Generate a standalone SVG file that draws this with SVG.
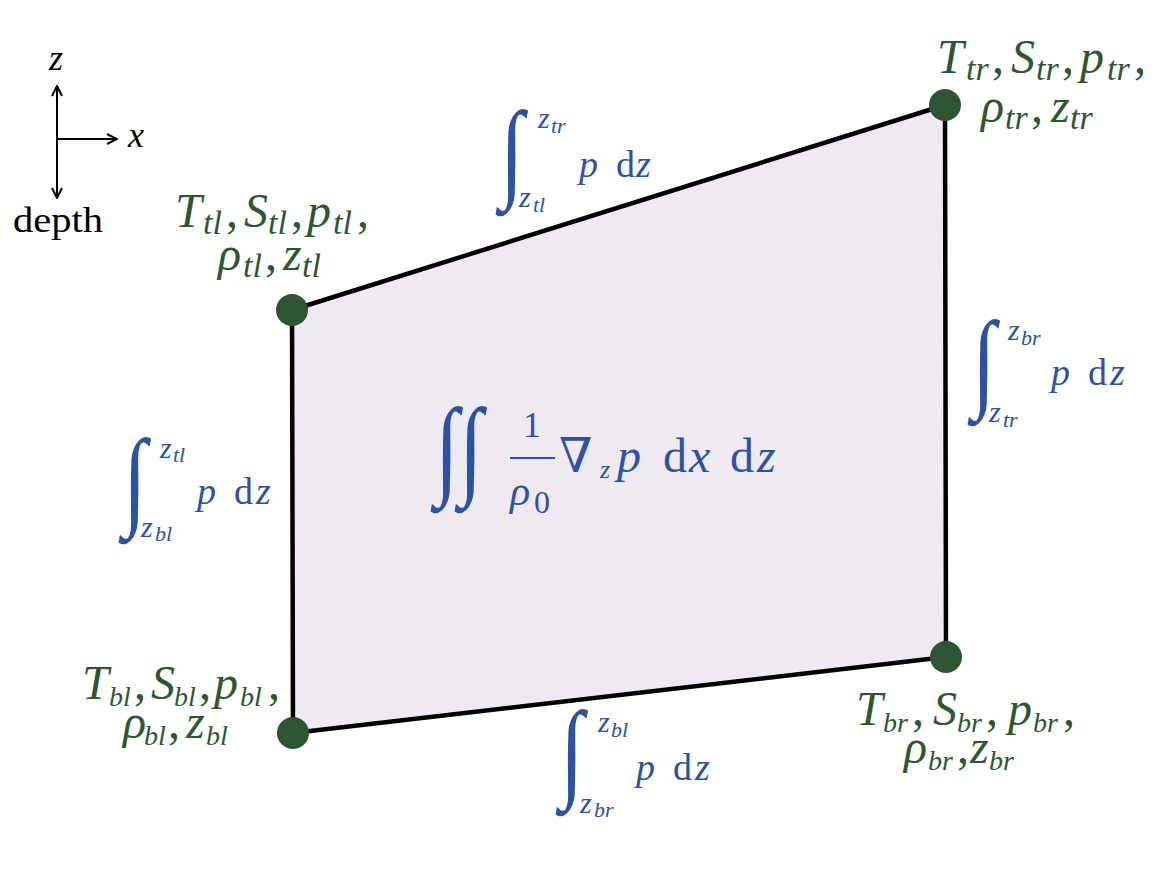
<svg xmlns="http://www.w3.org/2000/svg" width="1172" height="890" viewBox="0 0 1172 890">
<style>
text{font-family:"Liberation Serif",serif;}
.g{fill:#2e5631;font-size:48px;}
.b{fill:#2b52a3;}
.i{font-style:italic;}
.s{font-size:34px;font-style:italic;}
.sb{font-size:28px;font-style:italic;}
.ax{font-size:36px;fill:#000;}
.int{font-family:"Liberation Serif",serif;font-size:86px;fill:#2b52a3;font-style:italic;}
.sz{font-size:30px;font-style:italic;}
.ss{font-size:22px;font-style:italic;}
.pd{font-size:38px;}
.edge{stroke:#000;stroke-width:4.5;stroke-linecap:round;fill:none;}
.dot{fill:#2e5531;}
.axl{stroke:#000;stroke-width:2;fill:none;}
</style>
<defs>
<marker id="ah" viewBox="0 0 12 12" refX="11" refY="6" markerWidth="12" markerHeight="12" markerUnits="userSpaceOnUse" orient="auto-start-reverse">
<path d="M1,1 L11,6 L1,11" fill="none" stroke="#000" stroke-width="2"/>
</marker>
</defs>
<rect width="1172" height="890" fill="#fff"/>
<g id="axes">
<line class="axl" x1="57" y1="139" x2="57" y2="86" marker-end="url(#ah)"/>
<line class="axl" x1="57" y1="139" x2="57" y2="198" marker-end="url(#ah)"/>
<line class="axl" x1="57" y1="139" x2="117" y2="139" marker-end="url(#ah)"/>
<text class="ax i" x="49" y="70">z</text>
<text class="ax i" x="128" y="147">x</text>
<text class="ax" x="13" y="232" font-size="38" textLength="90" lengthAdjust="spacingAndGlyphs">depth</text>
</g>
<g id="cell">
<polygon points="292,310 945,105 946,657 293,733" fill="#efeaf2"/>
</g>
<g id="connectors">
<line class="edge" x1="292" y1="310" x2="945" y2="105"/>
<line class="edge" x1="945" y1="105" x2="946" y2="657"/>
<line class="edge" x1="946" y1="657" x2="293" y2="733"/>
<line class="edge" x1="293" y1="733" x2="292" y2="310"/>
</g>
<g id="edge-top" class="b">
<text class="int" transform="translate(500,187) scale(1,1.27)">∫</text>
<text class="b"><tspan class="sz" x="538" y="128">z</tspan><tspan class="ss" x="551" y="133">tr</tspan></text>
<text class="b"><tspan class="sz" x="519" y="207">z</tspan><tspan class="ss" x="533" y="212">tl</tspan></text>
<text class="b pd"><tspan class="i" x="579" y="177">p</tspan><tspan x="616" y="177">d</tspan><tspan class="i" x="636" y="177">z</tspan></text>
</g>
<g id="edge-left" class="b">
<text class="int" transform="translate(123,515) scale(1,1.27)">∫</text>
<text class="b"><tspan class="sz" x="160" y="458">z</tspan><tspan class="ss" x="173" y="462">tl</tspan></text>
<text class="b"><tspan class="sz" x="141" y="537">z</tspan><tspan class="ss" x="155" y="541">bl</tspan></text>
<text class="b pd"><tspan class="i" x="197" y="504">p</tspan><tspan x="234" y="504">d</tspan><tspan class="i" x="256" y="504">z</tspan></text>
</g>
<g id="edge-right" class="b">
<text class="int" transform="translate(972,397) scale(1,1.27)">∫</text>
<text class="b"><tspan class="sz" x="1008" y="340">z</tspan><tspan class="ss" x="1021" y="345">br</tspan></text>
<text class="b"><tspan class="sz" x="989" y="422">z</tspan><tspan class="ss" x="1003" y="427">tr</tspan></text>
<text class="b pd"><tspan class="i" x="1051" y="385">p</tspan><tspan x="1088" y="385">d</tspan><tspan class="i" x="1110" y="385">z</tspan></text>
</g>
<g id="edge-bottom" class="b">
<text class="int" transform="translate(560,787) scale(1,1.27)">∫</text>
<text class="b"><tspan class="sz" x="598" y="732">z</tspan><tspan class="ss" x="611" y="737">bl</tspan></text>
<text class="b"><tspan class="sz" x="580" y="813">z</tspan><tspan class="ss" x="594" y="817">br</tspan></text>
<text class="b pd"><tspan class="i" x="636" y="780">p</tspan><tspan x="673" y="780">d</tspan><tspan class="i" x="695" y="780">z</tspan></text>
</g>
<g id="center" class="b">
<text class="int" font-size="100" transform="translate(435,484) scale(1,1.27)">∫</text>
<text class="int" font-size="100" transform="translate(459,484) scale(1,1.27)">∫</text>
<text class="b" x="523" y="437" font-size="36">1</text>
<line x1="510" y1="458" x2="555" y2="458" stroke="#2b52a3" stroke-width="2.2"/>
<text class="b"><tspan class="i" x="510" y="505" font-size="42">ρ</tspan><tspan x="534" y="513" font-size="32">0</tspan></text>
<text class="b" x="559" y="472" font-size="48" style="font-family:'DejaVu Serif',serif">∇</text>
<text class="b i" x="600" y="478" font-size="26">z</text>
<text class="b" font-size="48"><tspan class="i" x="617" y="472">p</tspan><tspan x="663" y="472">d</tspan><tspan class="i" x="689" y="472">x</tspan><tspan x="730" y="472">d</tspan><tspan class="i" x="757" y="472">z</tspan></text>
</g>
<g id="node-tl">
<circle class="dot" cx="292" cy="310" r="16"/>
<text class="g"><tspan class="i" x="175" y="227">T</tspan><tspan class="s" x="203" y="234">tl</tspan><tspan x="226" y="227">,</tspan><tspan class="i" x="244" y="227">S</tspan><tspan class="s" x="268" y="234">tl</tspan><tspan x="291" y="227">,</tspan><tspan class="i" x="307" y="227">p</tspan><tspan class="s" x="333" y="234">tl</tspan><tspan x="357" y="227">,</tspan></text>
<text class="g"><tspan class="i" x="218" y="270">ρ</tspan><tspan class="s" x="243" y="277">tl</tspan><tspan x="265" y="270">,</tspan><tspan class="i" x="283" y="270">z</tspan><tspan class="s" x="302" y="277">tl</tspan></text>
</g>
<g id="node-tr">
<circle class="dot" cx="945" cy="105" r="16"/>
<text class="g"><tspan class="i" x="937" y="73">T</tspan><tspan class="s" x="966" y="80">tr</tspan><tspan x="992" y="73">,</tspan><tspan class="i" x="1011" y="73">S</tspan><tspan class="s" x="1036" y="80">tr</tspan><tspan x="1062" y="73">,</tspan><tspan class="i" x="1080" y="73">p</tspan><tspan class="s" x="1107" y="80">tr</tspan><tspan x="1134" y="73">,</tspan></text>
<text class="g"><tspan class="i" x="981" y="122">ρ</tspan><tspan class="s" x="1005" y="129">tr</tspan><tspan x="1031" y="122">,</tspan><tspan class="i" x="1051" y="122">z</tspan><tspan class="s" x="1070" y="129">tr</tspan></text>
</g>
<g id="node-bl">
<circle class="dot" cx="293" cy="733" r="16"/>
<text class="g"><tspan class="i" x="82" y="699">T</tspan><tspan class="sb" x="109" y="706">bl</tspan><tspan x="134" y="699">,</tspan><tspan class="i" x="151" y="699">S</tspan><tspan class="sb" x="174" y="706">bl</tspan><tspan x="199" y="699">,</tspan><tspan class="i" x="214" y="699">p</tspan><tspan class="sb" x="240" y="706">bl</tspan><tspan x="268" y="699">,</tspan></text>
<text class="g"><tspan class="i" x="123" y="738">ρ</tspan><tspan class="sb" x="144" y="745">bl</tspan><tspan x="168" y="738">,</tspan><tspan class="i" x="186" y="738">z</tspan><tspan class="sb" x="206" y="745">bl</tspan></text>
</g>
<g id="node-br">
<circle class="dot" cx="946" cy="657" r="16"/>
<text class="g"><tspan class="i" x="856" y="725">T</tspan><tspan class="sb" x="883" y="732">br</tspan><tspan x="912" y="725">,</tspan><tspan class="i" x="933" y="725">S</tspan><tspan class="sb" x="957" y="732">br</tspan><tspan x="986" y="725">,</tspan><tspan class="i" x="1008" y="725">p</tspan><tspan class="sb" x="1033" y="732">br</tspan><tspan x="1063" y="725">,</tspan></text>
<text class="g"><tspan class="i" x="904" y="763">ρ</tspan><tspan class="sb" x="928" y="770">br</tspan><tspan x="957" y="763">,</tspan><tspan class="i" x="970" y="763">z</tspan><tspan class="sb" x="989" y="770">br</tspan></text>
</g>
</svg>
